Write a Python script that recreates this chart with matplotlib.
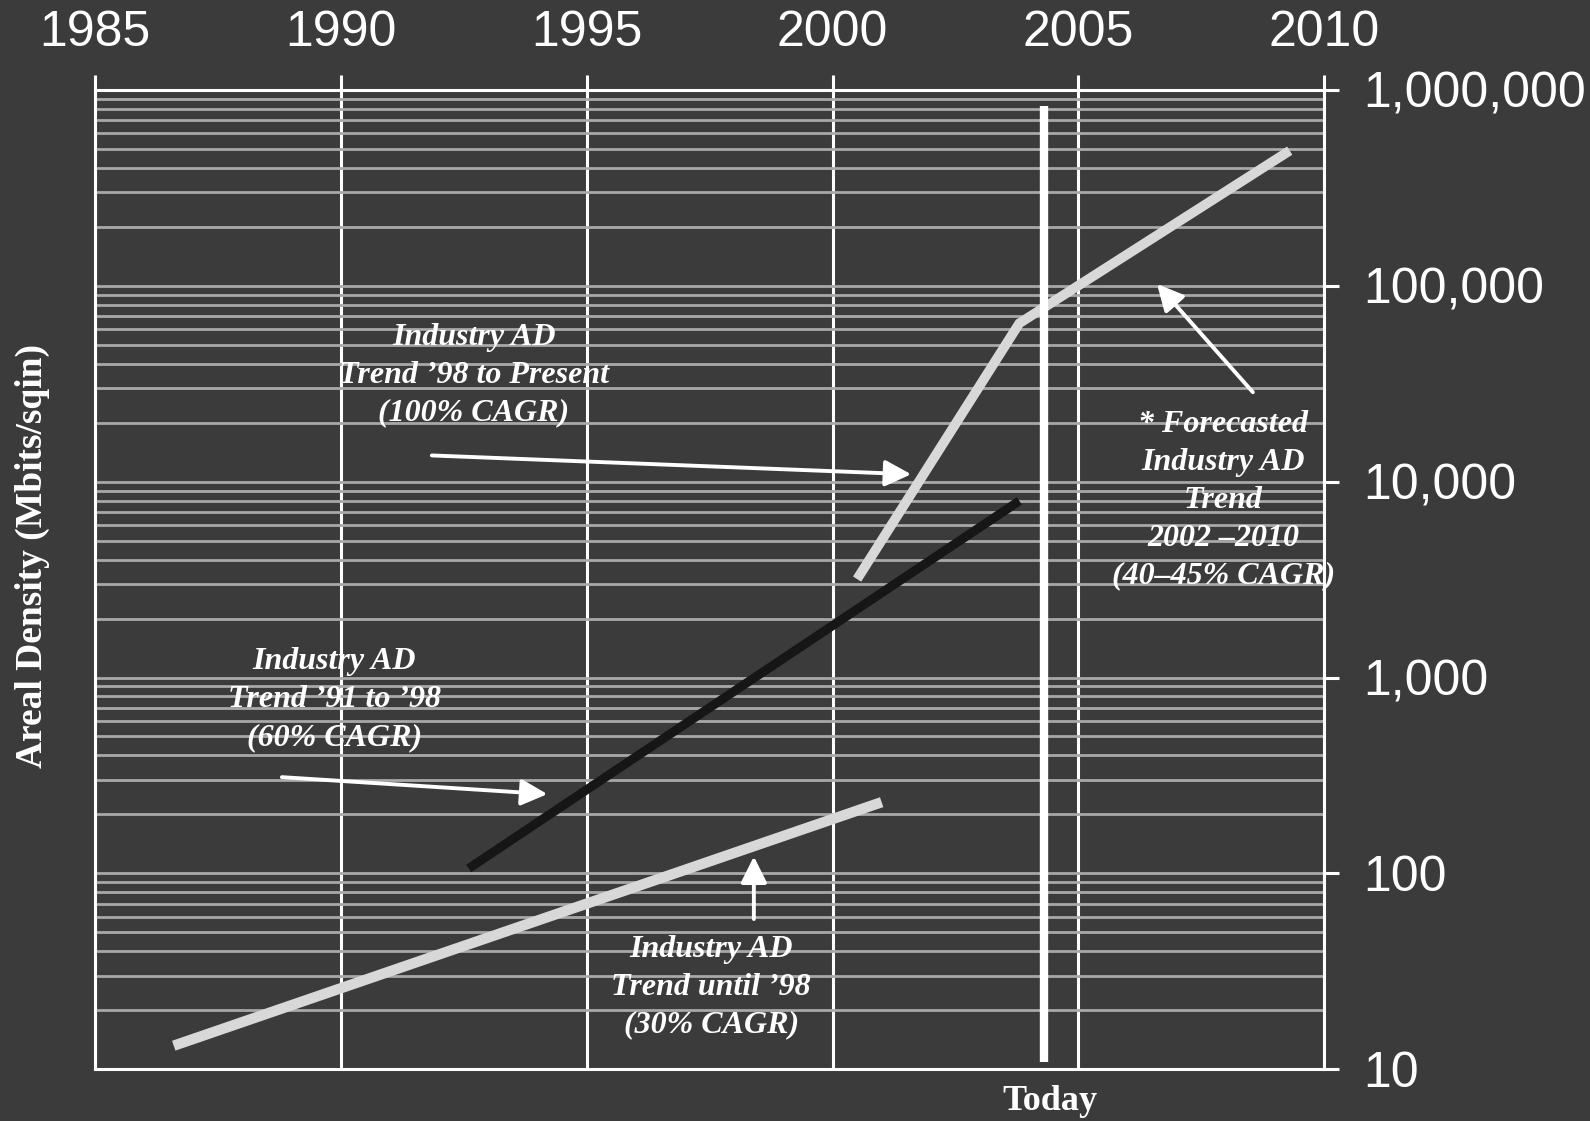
import numpy as np
import matplotlib.pyplot as plt
from matplotlib.ticker import FixedLocator, FuncFormatter, LogLocator

# --- data ---
years_30 = [1986.6, 2001.0]
ad_30 = [13.2, 231]

years_60 = [1992.6, 2003.8]
ad_60 = [106, 7970]

years_100 = [2000.5, 2003.8, 2009.3]
ad_100 = [3180, 64300, 489000]

today_year = 2004.3
today_span = [10.9, 826000]

x_ticks = [1985, 1990, 1995, 2000, 2005, 2010]
y_ticks = [10, 100, 1000, 10000, 100000, 1000000]

notes = [
    ("Industry AD\nTrend \u201998 to Present\n(100% CAGR)", (1992.7, 35000), (1991.85, 13600), (2001.6, 10900)),
    ("* Forecasted\nIndustry AD\nTrend\n2002 \u20132010\n(40\u201345% CAGR)", (2007.95, 8000), (2008.55, 28600), (2006.6, 102000)),
    ("Industry AD\nTrend \u201991 to \u201998\n(60% CAGR)", (1989.87, 770), (1988.8, 310), (1994.2, 254)),
    ("Industry AD\nTrend until \u201998\n(30% CAGR)", (1997.53, 26.3), (1998.4, 58.5), (1998.4, 122)),
]

bg = '#3b3b3b'
light = '#d8d8d8'
grid_h = '#a8a8a8'

fig = plt.figure(figsize=(15.9, 11.21), dpi=100, facecolor=bg)
ax = fig.add_axes([0.0598, 0.0461, 0.8729 - 0.0598 - 0.0401, 0.9199 - 0.0461])
ax.set_facecolor(bg)
ax.set_yscale('log')
ax.set_xlim(1985, 2010)
ax.set_ylim(10, 1e6)

# grid
ax.set_axisbelow(True)
ax.xaxis.set_major_locator(FixedLocator(x_ticks))
ax.yaxis.set_major_locator(FixedLocator(y_ticks))
ax.yaxis.set_minor_locator(LogLocator(base=10, subs=np.arange(2, 10)))
ax.grid(True, axis='x', which='major', color='white', lw=2.2)
ax.grid(True, axis='y', which='both', color=grid_h, lw=2.0)

for s in ax.spines.values():
    s.set_color('white')
    s.set_linewidth(2.2)

ax.xaxis.tick_top()
ax.yaxis.tick_right()
ax.tick_params(axis='x', which='major', direction='out', length=11, width=2.2, color='white',
               labelcolor='white', labelsize=36, pad=13)
ax.tick_params(axis='y', which='major', direction='out', length=11, width=2.2, color='white',
               labelcolor='white', labelsize=36, pad=17)
ax.tick_params(axis='y', which='minor', length=0)
ax.yaxis.set_major_formatter(FuncFormatter(lambda v, p: f'{int(round(v)):,}'))
for lab in ax.get_xticklabels() + ax.get_yticklabels():
    lab.set_family('Liberation Sans')

# trend lines
ax.plot(years_30, ad_30, color=light, lw=7.5, solid_capstyle='butt', zorder=3)
ax.plot(years_60, ad_60, color='#161616', lw=6.5, solid_capstyle='butt', zorder=3)
ax.plot(years_100, ad_100, color=light, lw=7, solid_capstyle='butt', solid_joinstyle='miter', zorder=3)
ax.plot([today_year, today_year], today_span, color='white', lw=6, solid_capstyle='butt', zorder=4)

# annotations
for txt, pos, tail, head in notes:
    ax.text(pos[0], pos[1], txt, color='white', fontsize=23, family='Liberation Serif',
            weight='bold', style='italic', ha='center', va='center', linespacing=1.4, zorder=5)
    ax.annotate('', xy=head, xytext=tail,
                arrowprops=dict(arrowstyle='-|>', color='white', lw=2.8, mutation_scale=40,
                                shrinkA=0, shrinkB=0), zorder=5)

ax.text(today_year + 0.13, -0.033, 'Today', transform=ax.get_xaxis_transform(), color='white',
        fontsize=26, family='Liberation Serif', weight='bold', ha='center', va='center')

fig.text(32.5 / 1590, 1 - 556 / 1121, 'Areal Density (Mbits/sqin)', rotation=90, color='white',
         fontsize=27, family='Liberation Serif', weight='bold', ha='center', va='center')

fig.savefig('out.png', dpi=100, facecolor=bg)
